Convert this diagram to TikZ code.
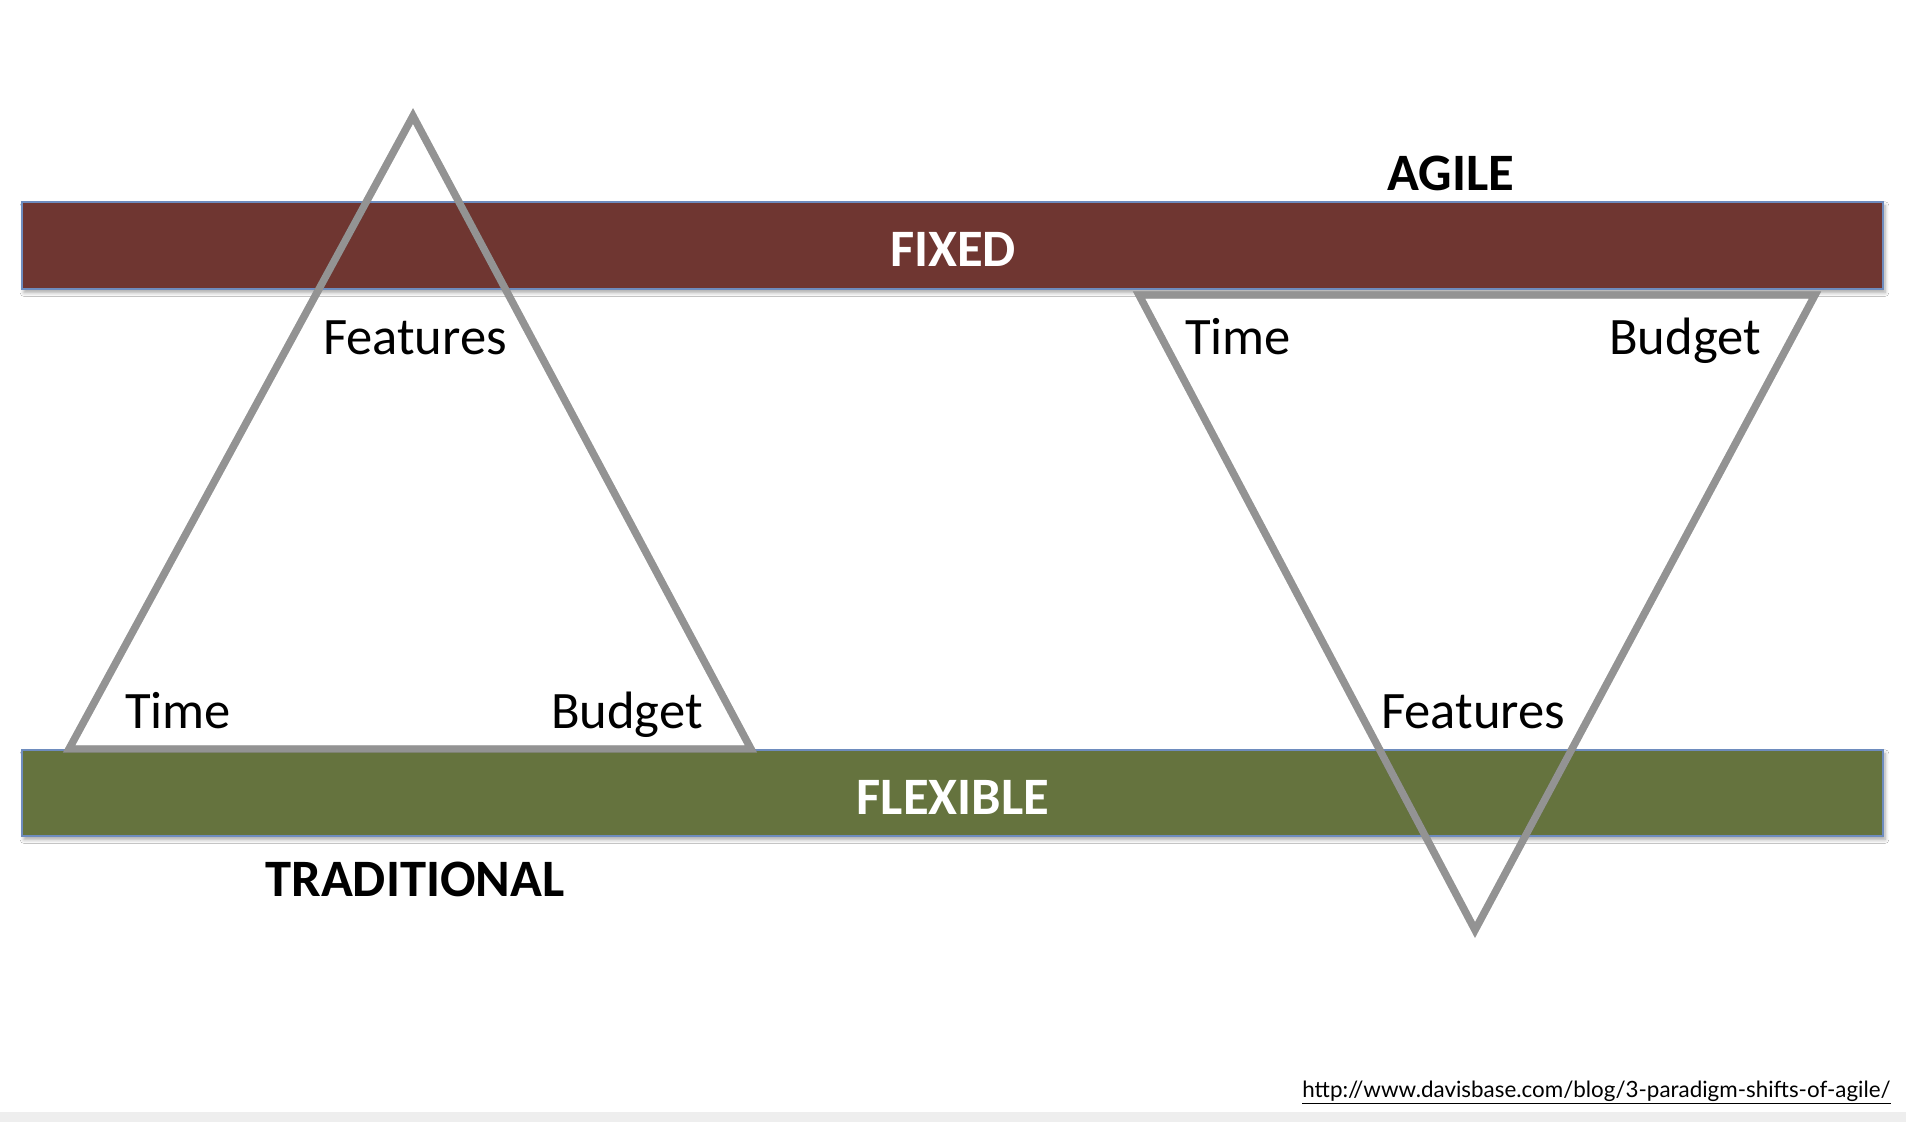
\documentclass[tikz,border=0pt]{standalone}
\usepackage{fontspec}
\setmainfont{Carlito}
\newfontfamily\urlfont{Lato}
\usetikzlibrary{shadows.blur}
\definecolor{fixedcol}{RGB}{111,54,49}
\definecolor{flexcol}{RGB}{101,115,62}
\definecolor{barline}{RGB}{110,140,190}
\definecolor{trigray}{RGB}{147,147,147}
\definecolor{footgray}{RGB}{238,238,238}
\tikzset{
  bar/.style={draw=barline, line width=0.6pt, inner sep=0pt, outer sep=0pt,
    blur shadow={shadow xshift=1pt, shadow yshift=-1.8pt, shadow blur steps=6, shadow opacity=35}},
  tri/.style={draw=trigray, line width=3.7pt, line join=miter},
  trishadow/.style={draw=black, opacity=0.18, line width=3.7pt, line join=miter},
  lbl/.style={font=\fontsize{26.3pt}{30pt}\selectfont, anchor=base, inner sep=0pt},
  blbl/.style={font=\fontsize{26.3pt}{30pt}\selectfont\bfseries, anchor=base, inner sep=0pt},
}
\begin{document}
\begin{tikzpicture}[x=0.5pt,y=-0.5pt]
\useasboundingbox (0,0) rectangle (1906,1122);
\fill[white] (0,0) rectangle (1906,1122);
\fill[footgray] (0,1112) rectangle (1906,1122);

% bars
\node[bar, fill=fixedcol, minimum width=930.5pt, minimum height=43.5pt] (fixed) at (952.5,245.5) {};
\node[bar, fill=flexcol, minimum width=930.5pt, minimum height=43pt] (flex) at (952.5,793) {};

% triangle vertices
\coordinate (la) at (413,116);
\coordinate (lb) at (69,749);
\coordinate (lc) at (751,749);
\coordinate (ra) at (1139,295);
\coordinate (rb) at (1815,295);
\coordinate (rc) at (1475,930);

% shadows
\draw[trishadow, shift={(2,3)}] (la) -- (lb) -- (lc) -- cycle;
\draw[trishadow, shift={(2,3)}] (ra) -- (rb) -- (rc) -- cycle;
% triangles
\draw[tri] (la) -- (lb) -- (lc) -- cycle;
\draw[tri] (ra) -- (rb) -- (rc) -- cycle;

% labels
\node[blbl, text=white] (fixedlbl) at (953,267) {FIXED};
\node[blbl, text=white] (flexlbl) at (953,814) {FLEXIBLE};
\node[blbl] (agile) at (1451,191) {AGILE};
\node[blbl] (trad) at (415,896) {TRADITIONAL};

\node[lbl] (lfeat) at (415,355) {Features};
\node[lbl] (ltime) at (178,728) {Time};
\node[lbl] (lbud) at (627,728) {Budget};

\node[lbl] (rtime) at (1238,355) {Time};
\node[lbl] (rbud) at (1685,355) {Budget};
\node[lbl] (rfeat) at (1473,728) {Features};

\node[font=\urlfont\fontsize{11.2pt}{13pt}\selectfont, anchor=base east, inner sep=0pt] (url) at (1891,1097) {\underline{http://www.davisbase.com/blog/3-paradigm-shifts-of-agile/}};
\end{tikzpicture}
\end{document}
